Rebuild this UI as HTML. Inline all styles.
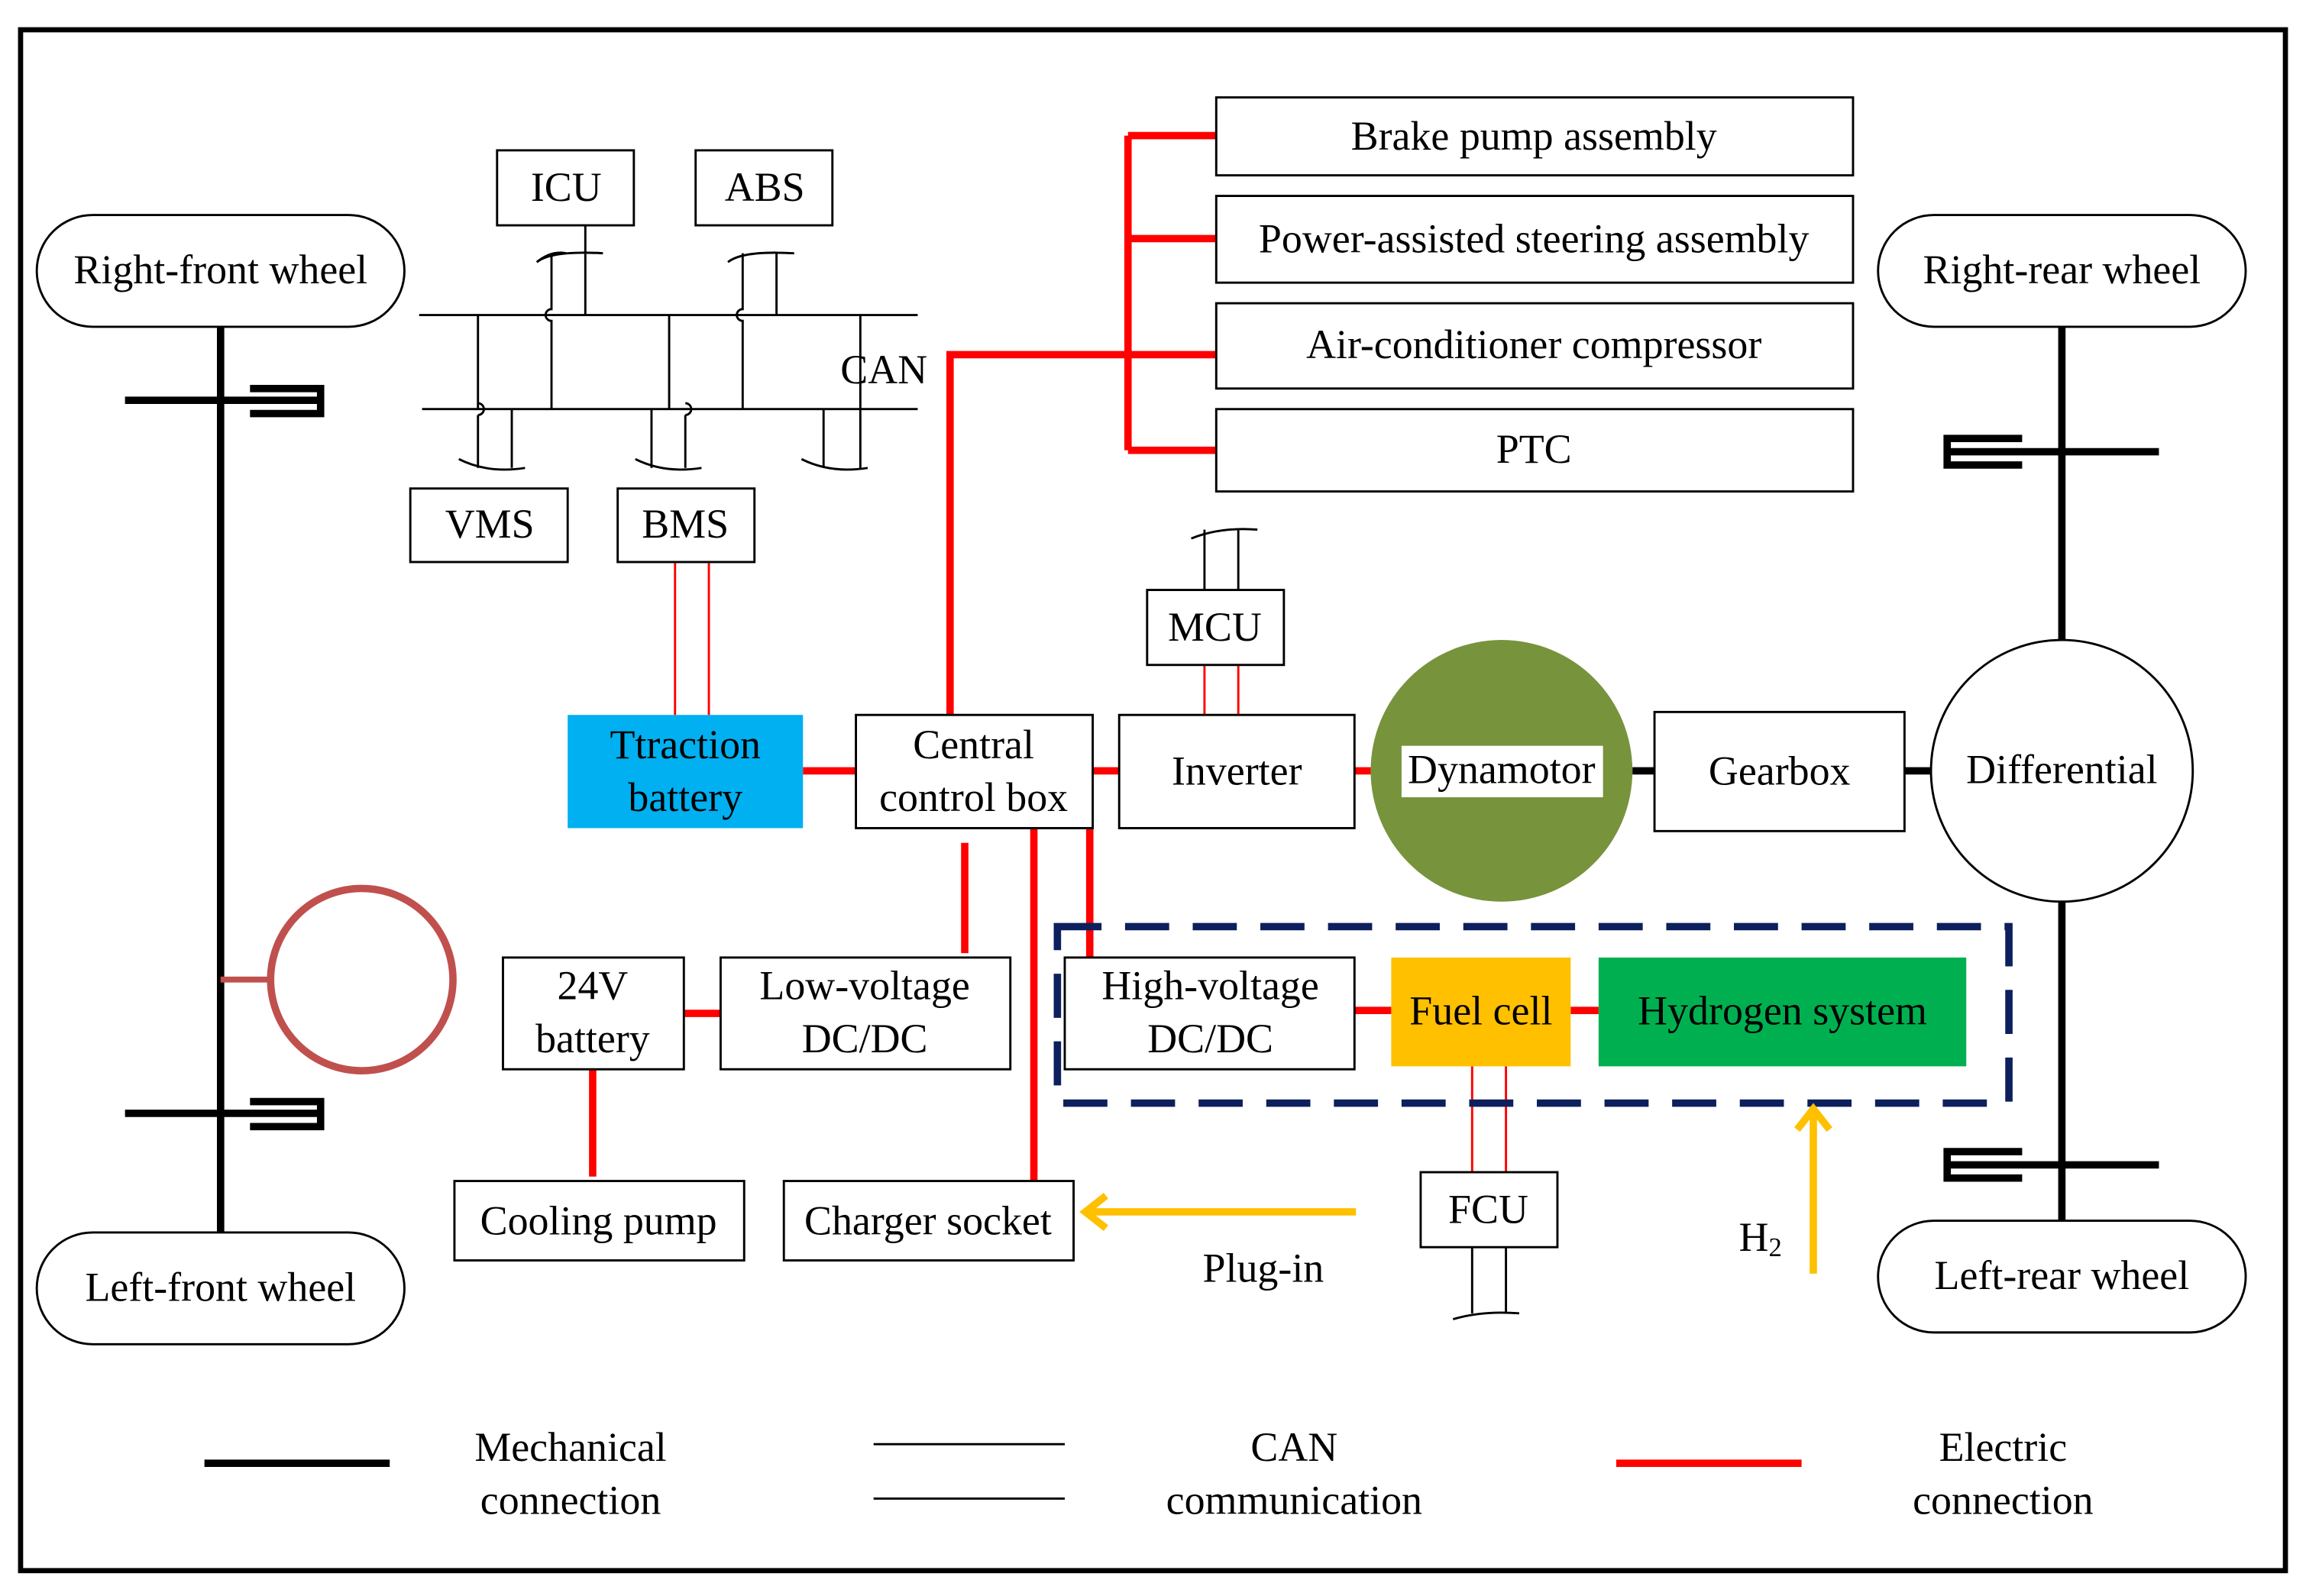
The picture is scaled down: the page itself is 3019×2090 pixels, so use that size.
<!DOCTYPE html>
<html><head><meta charset="utf-8"><style>
html,body{margin:0;padding:0;background:#fff;}
svg{display:block;}
text{font-family:"Liberation Serif",serif;font-size:28px;fill:#000;text-anchor:middle;dominant-baseline:middle;transform:translateY(2px);}
</style></head><body>
<svg width="3019" height="2090" viewBox="0 0 1568 1085" xmlns="http://www.w3.org/2000/svg">
<rect x="0" y="0" width="1568" height="1085" fill="#fff"/>
<rect x="14" y="20" width="1540" height="1048" fill="none" stroke="#000" stroke-width="3.5"/>

<g fill="#fff" stroke="#000" stroke-width="1.5">
<rect x="25" y="146" width="250" height="76" rx="38"/>
<rect x="25" y="838" width="250" height="76" rx="38"/>
<rect x="1277" y="146" width="250" height="76" rx="38"/>
<rect x="1277" y="830" width="250" height="76" rx="38"/>
</g>
<text x="150" y="184">Right-front wheel</text>
<text x="150" y="876">Left-front wheel</text>
<text x="1402" y="184">Right-rear wheel</text>
<text x="1402" y="868">Left-rear wheel</text>

<g stroke="#000" stroke-width="5" fill="none">
<line x1="150" y1="222" x2="150" y2="838"/>
<line x1="85" y1="272" x2="220" y2="272"/>
<path d="M170 264 H218 V281 H170"/>
<line x1="85" y1="757" x2="220" y2="757"/>
<path d="M170 749 H218 V766 H170"/>
<line x1="1402" y1="222" x2="1402" y2="437"/>
<line x1="1402" y1="612" x2="1402" y2="830"/>
<line x1="1325" y1="307" x2="1468" y2="307"/>
<path d="M1375 298 H1324 V316 H1375"/>
<line x1="1325" y1="792" x2="1468" y2="792"/>
<path d="M1375 783 H1324 V801 H1375"/>
<line x1="1110" y1="524" x2="1125" y2="524"/>
<line x1="1295" y1="524" x2="1313" y2="524"/>
</g>
<line x1="150" y1="666" x2="184" y2="666" stroke="#c0504d" stroke-width="4"/>
<circle cx="246" cy="666" r="62" fill="none" stroke="#c0504d" stroke-width="5"/>

<circle cx="1402" cy="524" r="89" fill="#fff" stroke="#000" stroke-width="1.5"/>
<text x="1402" y="524">Differential</text>
<circle cx="1021" cy="524" r="89" fill="#77933c"/>
<rect x="953" y="507" width="137" height="35" fill="#fff"/>
<text x="1021" y="524">Dynamotor</text>

<g stroke="#ff0000" stroke-width="5" fill="none">
<line x1="767" y1="92" x2="767" y2="306"/>
<line x1="767" y1="92" x2="827" y2="92"/>
<line x1="767" y1="162" x2="827" y2="162"/>
<line x1="767" y1="306" x2="827" y2="306"/>
<path d="M646 486 V241 H827"/>
<line x1="546" y1="524" x2="582" y2="524"/>
<line x1="743" y1="524" x2="761" y2="524"/>
<line x1="921" y1="524" x2="932" y2="524"/>
<line x1="656" y1="573" x2="656" y2="648"/>
<line x1="703" y1="563" x2="703" y2="812"/>
<line x1="741" y1="563" x2="741" y2="660"/>
<line x1="465" y1="689" x2="490" y2="689"/>
<line x1="403" y1="727" x2="403" y2="800"/>
<line x1="921" y1="687" x2="946" y2="687"/>
<line x1="1068" y1="687" x2="1087" y2="687"/>
<line x1="1099" y1="995" x2="1225" y2="995"/>
</g>
<g stroke="#ff0000" stroke-width="1.5">
<line x1="459" y1="382" x2="459" y2="486"/><line x1="482" y1="382" x2="482" y2="486"/>
<line x1="819" y1="452" x2="819" y2="486"/><line x1="842" y1="452" x2="842" y2="486"/>
<line x1="1001" y1="725" x2="1001" y2="797"/><line x1="1024" y1="725" x2="1024" y2="797"/>
</g>

<g stroke="#000" stroke-width="1.5" fill="none">
<line x1="285" y1="214" x2="624" y2="214"/>
<line x1="287" y1="278" x2="624" y2="278"/>
<line x1="325" y1="214" x2="325" y2="278"/>
<path d="M375 278 V218 a4 4 0 0 1 0 -8 V172 M365 178 q10 -8 20 -6 M398 172 V153"/>
<path d="M365 178 q10 -8 45 -6 M398 172 V214"/>
<line x1="455" y1="214" x2="455" y2="278"/>
<path d="M505 278 V218 a4 4 0 0 1 0 -8 V172 M495 178 q10 -8 45 -6 M528 172 V214"/>
<line x1="585" y1="214" x2="585" y2="278"/>
<path d="M325 282 a4 4 0 0 0 0 -8 M325 282 V318 M348 278 V318 M312 312 q20 10 45 6"/>
<path d="M443 278 V318 M466 282 a4 4 0 0 0 0 -8 M466 282 V318 M432 312 q20 10 45 6"/>
<path d="M560 278 V318 M585 278 V318 M545 312 q20 10 45 6"/>
<path d="M819 401 V360 M842 401 V360 M810 366 q20 -8 45 -6"/>
<path d="M1001 848 V893 M1024 848 V893 M988 897 q20 -6 45 -4"/>
<line x1="594" y1="982" x2="724" y2="982"/>
<line x1="594" y1="1019" x2="724" y2="1019"/>
</g>
<text x="601" y="252">CAN</text>

<g fill="#fff" stroke="#000" stroke-width="1.5">
<rect x="338" y="102" width="93" height="51"/>
<rect x="473" y="102" width="93" height="51"/>
<rect x="279" y="332" width="107" height="50"/>
<rect x="420" y="332" width="93" height="50"/>
<rect x="827" y="66" width="433" height="53"/>
<rect x="827" y="133" width="433" height="59"/>
<rect x="827" y="206" width="433" height="58"/>
<rect x="827" y="278" width="433" height="56"/>
<rect x="780" y="401" width="93" height="51"/>
<rect x="761" y="486" width="160" height="77"/>
<rect x="582" y="486" width="161" height="77"/>
<rect x="1125" y="484" width="170" height="81"/>
<rect x="490" y="651" width="197" height="76"/>
<rect x="342" y="651" width="123" height="76"/>
<rect x="309" y="803" width="197" height="54"/>
<rect x="533" y="803" width="197" height="54"/>
<rect x="724" y="651" width="197" height="76"/>
<rect x="966" y="797" width="93" height="51"/>
</g>
<rect x="386" y="486" width="160" height="77" fill="#00b0f0"/>
<rect x="946" y="651" width="122" height="74" fill="#ffc000"/>
<rect x="1087" y="651" width="250" height="74" fill="#00b050"/>
<rect x="719" y="630" width="647" height="120" fill="none" stroke="#0d1f5c" stroke-width="5" stroke-dasharray="30 16"/>

<text x="385" y="128">ICU</text>
<text x="520" y="128">ABS</text>
<text x="333" y="357">VMS</text>
<text x="466" y="357">BMS</text>
<text x="1043" y="93">Brake pump assembly</text>
<text x="1043" y="163">Power-assisted steering assembly</text>
<text x="1043" y="235">Air-conditioner compressor</text>
<text x="1043" y="306">PTC</text>
<text x="826" y="427">MCU</text>
<text x="841" y="525">Inverter</text>
<text x="662" y="507">Central</text>
<text x="662" y="543">control box</text>
<text x="466" y="507">Ttraction</text>
<text x="466" y="543">battery</text>
<text x="1210" y="525">Gearbox</text>
<text x="588" y="671">Low-voltage</text>
<text x="588" y="707">DC/DC</text>
<text x="403" y="671">24V</text>
<text x="403" y="707">battery</text>
<text x="407" y="831">Cooling pump</text>
<text x="631" y="831">Charger socket</text>
<text x="823" y="671">High-voltage</text>
<text x="823" y="707">DC/DC</text>
<text x="1007" y="688">Fuel cell</text>
<text x="1212" y="688">Hydrogen system</text>
<text x="1012" y="823">FCU</text>

<g stroke="#ffc000" stroke-width="5" fill="none">
<line x1="922" y1="824" x2="742" y2="824"/>
<path d="M752 813 L738 824 L752 835"/>
<line x1="1233" y1="866" x2="1233" y2="758"/>
<path d="M1222 768 L1233 754 L1244 768"/>
</g>
<text x="859" y="863">Plug-in</text>
<text x="1197" y="842">H<tspan font-size="18" dy="6">2</tspan></text>

<line x1="139" y1="995" x2="265" y2="995" stroke="#000" stroke-width="5"/>
<text x="388" y="985">Mechanical</text>
<text x="388" y="1021">connection</text>
<text x="880" y="985">CAN</text>
<text x="880" y="1021">communication</text>
<text x="1362" y="985">Electric</text>
<text x="1362" y="1021">connection</text>
</svg>
</body></html>
